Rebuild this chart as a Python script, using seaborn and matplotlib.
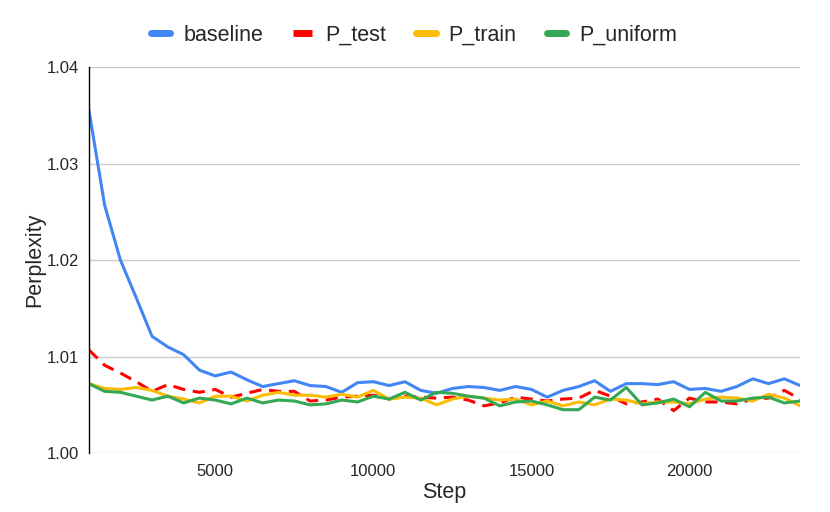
import pandas as pd
import matplotlib.pyplot as plt
import seaborn as sns

steps = list(range(1000, 24000, 500))

baseline = [1.0356, 1.0257, 1.0200, 1.0161, 1.0121, 1.0110, 1.0102, 1.0086, 1.0080, 1.0084,
            1.0076, 1.0069, 1.0072, 1.0075, 1.0070, 1.0069, 1.0063, 1.0073, 1.0074, 1.0070,
            1.0074, 1.0065, 1.0062, 1.0067, 1.0069, 1.0068, 1.0065, 1.0069, 1.0066, 1.0058,
            1.0065, 1.0069, 1.0075, 1.0064, 1.0072, 1.0072, 1.0071, 1.0074, 1.0066, 1.0067,
            1.0064, 1.0069, 1.0077, 1.0072, 1.0077, 1.0070]
p_test = [1.0107, 1.0091, 1.0083, 1.0074, 1.0064, 1.0071, 1.0066, 1.0063, 1.0066, 1.0058,
          1.0062, 1.0066, 1.0064, 1.0064, 1.0054, 1.0055, 1.0058, 1.0059, 1.0060, 1.0056,
          1.0059, 1.0058, 1.0057, 1.0058, 1.0055, 1.0049, 1.0052, 1.0058, 1.0056, 1.0054,
          1.0056, 1.0057, 1.0065, 1.0059, 1.0051, 1.0053, 1.0056, 1.0044, 1.0057, 1.0053,
          1.0053, 1.0051, 1.0056, 1.0057, 1.0065, 1.0056]
p_train = [1.0072, 1.0067, 1.0066, 1.0068, 1.0065, 1.0059, 1.0056, 1.0052, 1.0059, 1.0059,
           1.0054, 1.0060, 1.0063, 1.0060, 1.0060, 1.0058, 1.0061, 1.0058, 1.0065, 1.0056,
           1.0058, 1.0057, 1.0050, 1.0056, 1.0059, 1.0057, 1.0055, 1.0056, 1.0050, 1.0054,
           1.0049, 1.0053, 1.0050, 1.0056, 1.0055, 1.0051, 1.0053, 1.0053, 1.0051, 1.0056,
           1.0058, 1.0057, 1.0054, 1.0061, 1.0057, 1.0049]
p_uniform = [1.0072, 1.0064, 1.0063, 1.0059, 1.0055, 1.0059, 1.0052, 1.0057, 1.0055, 1.0051,
             1.0057, 1.0052, 1.0055, 1.0054, 1.0050, 1.0051, 1.0055, 1.0053, 1.0059, 1.0056,
             1.0063, 1.0055, 1.0063, 1.0062, 1.0059, 1.0057, 1.0049, 1.0053, 1.0054, 1.0050,
             1.0045, 1.0045, 1.0058, 1.0055, 1.0068, 1.0050, 1.0052, 1.0056, 1.0048, 1.0063,
             1.0054, 1.0054, 1.0057, 1.0058, 1.0052, 1.0054]

series = ['baseline', 'P_test', 'P_train', 'P_uniform']
colors = ['#4285F4', '#FF0000', '#FBBC04', '#34A853']

rows = []
for name, vals in zip(series, [baseline, p_test, p_train, p_uniform]):
    for s, v in zip(steps, vals):
        rows.append({'Step': s, 'Perplexity': v, 'series': name})
df = pd.DataFrame(rows)

sns.set_style('white')
plt.rcParams['font.family'] = ['Liberation Sans', 'DejaVu Sans']

fig = plt.figure(figsize=(8.3, 5.12), dpi=100)
ax = fig.add_axes([0.107, 0.115, 0.857, 0.754])

sns.lineplot(data=df, x='Step', y='Perplexity', hue='series', style='series',
             palette=dict(zip(series, colors)),
             dashes={'baseline': '', 'P_test': (4, 2.5), 'P_train': '', 'P_uniform': ''},
             linewidth=2.2, ax=ax)

ax.set_xlim(1000, 23500)
ax.set_ylim(1.0, 1.04)
ax.set_xticks([5000, 10000, 15000, 20000])
ax.set_yticks([1.00, 1.01, 1.02, 1.03, 1.04])
ax.set_yticklabels(['1.00', '1.01', '1.02', '1.03', '1.04'])
ax.yaxis.grid(True, color='#cccccc', linewidth=1)
ax.set_axisbelow(True)
ax.tick_params(length=0, labelsize=12)
ax.tick_params(axis='y', pad=7)
ax.tick_params(axis='x', pad=8)
for sp in ['top', 'right', 'bottom']:
    ax.spines[sp].set_visible(False)
ax.spines['left'].set_color('black')
ax.spines['left'].set_linewidth(1)
ax.set_xlabel('Step', fontsize=15.5, labelpad=2)
ax.set_ylabel('Perplexity', fontsize=15.5, labelpad=1)

ax.legend(title=None, loc='center', bbox_to_anchor=(0.457, 1.083), ncol=4,
          frameon=False, fontsize=15.5, handlelength=0.9, handletextpad=0.6,
          columnspacing=1.4)
for line in ax.get_legend().get_lines():
    line.set_linewidth(5)

fig.savefig('out.png', dpi=100)
